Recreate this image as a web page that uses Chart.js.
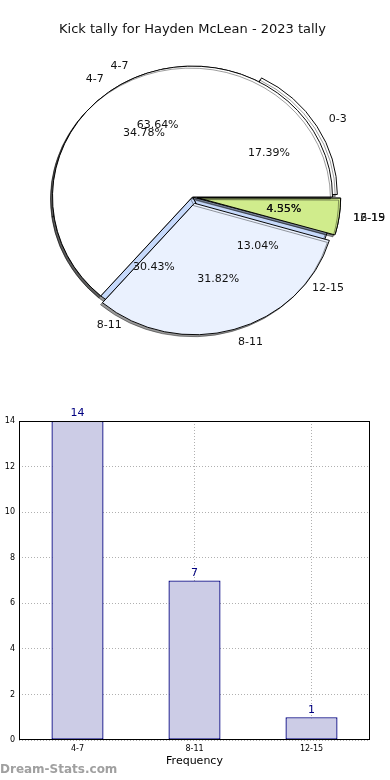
<!DOCTYPE html>
<html>
<head>
<meta charset="utf-8">
<script src="https://cdn.jsdelivr.net/npm/chart.js@4.4.1/dist/chart.umd.min.js"></script>
<style>
    body { margin: 0; background: #fff; font-family: 'DejaVu Sans', sans-serif; }
    #wrap { position: relative; width: 390px; height: 780px; overflow: hidden; }
    .pie { position: absolute; left: 0; top: 0; width: 390px; height: 380px; }
    #barBox { position: absolute; left: 0; top: 380px; width: 390px; height: 400px; }
    #mark { position: absolute; left: 0; top: 762px; font-size: 12px; color: #a0a0a0; font-weight: bold; }
</style>
</head>
<body>
<div id="wrap">
    <div class="pie"><canvas id="pieBack" width="390" height="380"></canvas></div>
    <div class="pie"><canvas id="pieFront" width="390" height="380"></canvas></div>
    <div id="barBox"><canvas id="barChart" width="390" height="400"></canvas></div>
    <div id="mark">Dream-Stats.com</div>
</div>
<script>
// older tally pie (drawn underneath)
const backLabels = ['0-3', '4-7', '8-11', '12-15', '16-19'];
const backValues = [4, 8, 7, 3, 1];
const backColors = ['#ffffff', '#ffffff', '#c6d9fb', '#c6d9fb', '#d0ec8c'];
const backOffsets = [20, 0, 0, 0, 19];

// 2023 tally pie (drawn on top)
const frontLabels = ['4-7', '8-11', '12-15'];
const frontValues = [14, 7, 1];
const frontColors = ['#ffffff', '#eaf1fe', '#d0ec8c'];
const frontOffsets = [0, 28, 19];

// bar chart
const barLabels = ['4-7', '8-11', '12-15'];
const barValues = [14, 7, 1];
const yTicks = [0, 2, 4, 6, 8, 10, 12, 14];

const SQUASH = 0.935;
const TITLE = 'Kick tally for Hayden McLean - 2023 tally';

// matplotlib starts at 3 o'clock going counter-clockwise, chart.js goes clockwise
const rev = arr => arr.slice().reverse();

const arcShift = (arc) => {
    const off = (arc.options.offset || 0) / 4;
    const circ = arc.endAngle - arc.startAngle;
    const fix = 1 - Math.sin(Math.min(Math.PI, circ));
    return off * (1 + fix);
};

const pieLook = {
    id: 'pieLook',
    beforeDatasetsDraw(chart) {
        const ctx = chart.ctx;
        const arc = chart.getDatasetMeta(0).data[0];
        ctx.save();
        ctx.translate(arc.x, arc.y);
        ctx.scale(1, SQUASH);
        ctx.translate(-arc.x, -arc.y);
        ctx.shadowColor = 'rgba(0,0,0,0.4)';
        ctx.shadowOffsetX = -2;
        ctx.shadowOffsetY = 2;
        ctx.shadowBlur = 0;
    },
    afterDatasetsDraw(chart) {
        chart.ctx.restore();
    }
};

const drawPieText = (ctx, chart) => {
    const meta = chart.getDatasetMeta(0);
    const ds = chart.data.datasets[0];
    const total = ds.data.reduce((a, b) => a + b, 0);
    meta.data.forEach((arc, i) => {
        const mid = (arc.startAngle + arc.endAngle) / 2;
        const r = arc.outerRadius;
        const sh = arcShift(arc);
        const cx = Math.cos(mid), cy = Math.sin(mid);
        const lx = arc.x + cx * (sh + r * 1.1);
        const ly = arc.y + cy * (sh + r * 1.1) * SQUASH;
        ctx.textAlign = cx >= 0 ? 'left' : 'right';
        ctx.fillText(chart.data.labels[i], lx, ly);
        const px = arc.x + cx * (sh + r * 0.6);
        const py = arc.y + cy * (sh + r * 0.6) * SQUASH;
        ctx.textAlign = 'center';
        ctx.fillText((ds.data[i] / total * 100).toFixed(2) + '%', px, py);
    });
};

const pies = [];

const pieText = {
    id: 'pieText',
    afterDraw(chart) {
        const ctx = chart.ctx;
        ctx.save();
        ctx.font = '11px "DejaVu Sans"';
        ctx.fillStyle = '#111';
        ctx.textBaseline = 'middle';
        pies.forEach(p => drawPieText(ctx, p));
        ctx.restore();
    }
};

const makePie = (id, labels, values, colors, offsets, titleColor, extra) => {
    const chart = new Chart(document.getElementById(id), {
        type: 'pie',
        data: {
            labels: rev(labels),
            datasets: [{
                data: rev(values),
                backgroundColor: rev(colors),
                offset: rev(offsets),
                borderColor: '#000',
                borderWidth: 1,
                radius: 140,
                clip: false
            }]
        },
        options: {
            responsive: false,
            animation: false,
            rotation: 90,
            layout: { padding: { left: 0, right: 5, top: 0, bottom: 23.6 } },
            plugins: {
                legend: { display: false },
                tooltip: { enabled: false },
                title: {
                    display: true,
                    text: TITLE,
                    color: titleColor,
                    font: { family: 'DejaVu Sans', size: 13, weight: 'normal' },
                    padding: { top: 22, bottom: 0 }
                }
            }
        },
        plugins: extra
    });
    pies.push(chart);
    return chart;
};

makePie('pieBack', backLabels, backValues, backColors, backOffsets, 'rgba(0,0,0,0)', [pieLook]);
const frontPie = makePie('pieFront', frontLabels, frontValues, frontColors, frontOffsets, '#111', [pieLook, pieText]);
frontPie.draw();

const barLook = {
    id: 'barLook',
    afterDatasetsDraw(chart) {
        const ctx = chart.ctx;
        const meta = chart.getDatasetMeta(0);
        ctx.save();
        ctx.font = '11px "DejaVu Sans"';
        ctx.fillStyle = '#000080';
        ctx.textAlign = 'center';
        ctx.textBaseline = 'bottom';
        meta.data.forEach((bar, i) => {
            ctx.fillText(String(barValues[i]), bar.x, bar.y - 2);
        });
        const a = chart.chartArea;
        ctx.strokeStyle = '#000';
        ctx.lineWidth = 1;
        ctx.strokeRect(Math.round(a.left) + 0.5, Math.round(a.top) + 0.5,
            Math.round(a.right - a.left) - 1, Math.round(a.bottom - a.top) - 1);
        ctx.restore();
    }
};

new Chart(document.getElementById('barChart'), {
    type: 'bar',
    data: {
        labels: barLabels,
        datasets: [{
            data: barValues,
            backgroundColor: '#ccccE6',
            borderColor: '#000080',
            borderWidth: 1.3,
            borderSkipped: false,
            barPercentage: 0.445,
            categoryPercentage: 1
        }]
    },
    options: {
        responsive: false,
        animation: false,
        layout: { padding: { left: 0, right: 20, top: 41, bottom: 12 } },
        plugins: {
            legend: { display: false },
            tooltip: { enabled: false }
        },
        scales: {
            x: {
                afterFit: s => { s.height = 28; },
                grid: { offset: false, color: '#b0b0b0', drawTicks: false },
                border: { display: false, dash: [1, 2] },
                ticks: { color: '#000', font: { family: 'DejaVu Sans', size: 8 }, padding: 4 },
                title: {
                    display: true,
                    text: 'Frequency',
                    color: '#000',
                    font: { family: 'DejaVu Sans', size: 11 },
                    padding: { top: 2, bottom: 0 }
                }
            },
            y: {
                min: 0,
                max: 14,
                afterFit: s => { s.width = 19; },
                afterBuildTicks: s => { s.ticks = yTicks.map(v => ({ value: v })); },
                grid: { color: '#b0b0b0', drawTicks: false },
                border: { display: false, dash: [1, 2] },
                ticks: { color: '#000', font: { family: 'DejaVu Sans', size: 8 }, padding: 4 }
            }
        }
    },
    plugins: [barLook]
});
</script>
</body>
</html>
